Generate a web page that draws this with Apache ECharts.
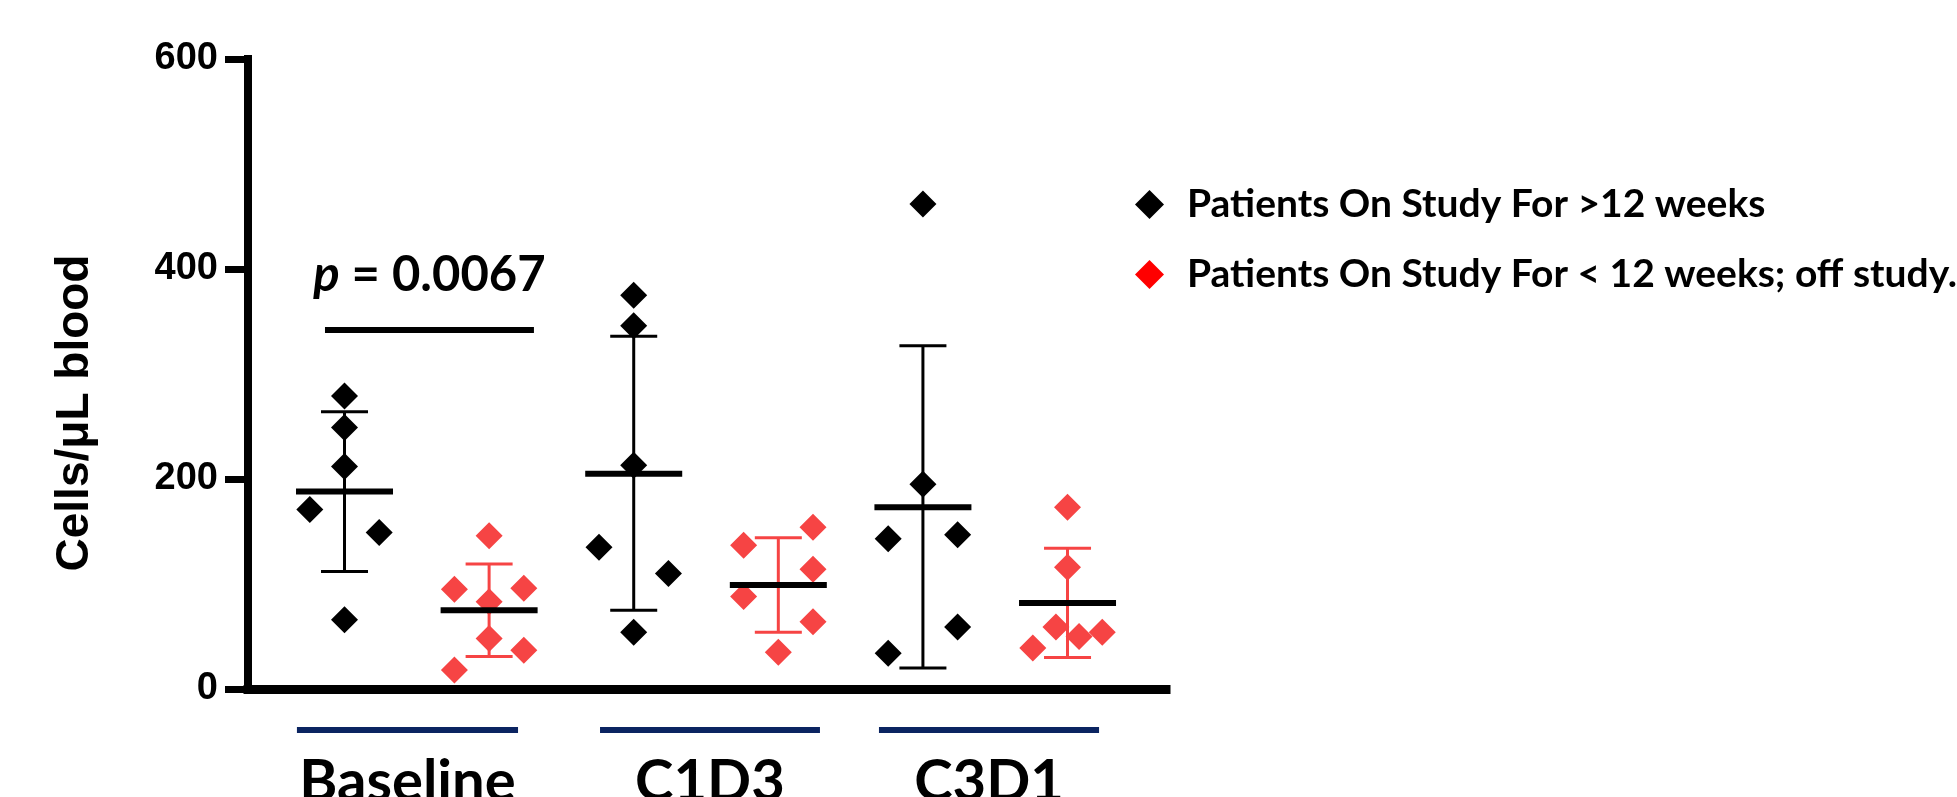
<!DOCTYPE html>
<html>
<head>
<meta charset="utf-8">
<script src="https://cdn.jsdelivr.net/npm/echarts@6.0.0/dist/echarts.min.js"></script>
<style>
  html, body { margin: 0; padding: 0; background: #fff; }
  #chart { width: 1957px; height: 797px; }
</style>
</head>
<body>
<div id="chart"></div>
<script>
// 分组名称
const groups = ['Baseline', 'C1D3', 'C3D1'];
const seriesNames = ['Patients On Study For >12 weeks', 'Patients On Study For < 12 weeks; off study.'];

// >12 weeks 组的数值 (每个时间点一行)
const longVals = [
	[279, 249, 212, 171, 149, 66],
	[375, 346, 213, 135, 110, 54],
	[462, 195, 143, 147, 59, 34],
];
// 散点左右错开的偏移 (x 轴单位)
const longShift = [
	[0, 0, 0, -0.24, 0.24, 0],
	[0, 0, 0, -0.24, 0.24, 0],
	[0, 0, -0.24, 0.24, 0.24, -0.24],
];
// <12 weeks 组的数值
const shortVals = [
	[146, 95, 96, 83, 48, 37, 18],
	[137, 154, 114, 88, 64, 35],
	[173, 116, 59, 50, 54, 39],
];
const shortShift = [
	[0, -0.24, 0.24, 0, 0, 0.24, -0.24],
	[-0.24, 0.24, 0.24, -0.24, 0.24, 0],
	[0, 0, -0.08, 0.08, 0.24, -0.24],
];

// 均值和误差线 (mean ± SD)
const longMean = [188, 205, 173];
const longLow = [112, 75, 20];
const longHigh = [264, 336, 327];
const shortMean = [75, 99, 82];
const shortLow = [31, 54, 30];
const shortHigh = [119, 144, 134];

// 底部分组横线的范围
const groupSpan = [[0.671, 2.2], [2.767, 4.288], [4.696, 6.218]];

// 显著性标注
const sigSpan = [0.865, 2.31];
const sigY = 342;
const sigTextY = 394;
const sigText = '0.0067';

const RED = '#f64444';
const NAVY = '#0b2461';

// 组装数据
let longData = [], shortData = [], barData = [], meanData = [];
groups.forEach((g, i) => {
	const xl = 1 + i * 2, xs = 2 + i * 2;
	longVals[i].forEach((v, j) => longData.push([xl + longShift[i][j], v]));
	shortVals[i].forEach((v, j) => shortData.push([xs + shortShift[i][j], v]));
	barData.push([xl, longLow[i], longHigh[i], 0]);
	barData.push([xs, shortLow[i], shortHigh[i], 1]);
	meanData.push([xl, longMean[i]]);
	meanData.push([xs, shortMean[i]]);
});

let myChart = echarts.init(document.getElementById('chart'));

myChart.setOption({
	animation: false,
	grid: {
		left: 248,
		top: 59,
		width: 918,
		height: 630,
	},
	legend: {
		orient: 'vertical',
		left: 1130,
		top: 180,
		itemWidth: 29,
		itemHeight: 29,
		itemGap: 31,
		icon: 'diamond',
		selectedMode: false,
		textStyle: {
			fontFamily: 'Lato',
			fontWeight: 'bold',
			fontSize: 39,
			lineHeight: 38,
			color: '#000',
			padding: [0, 0, 0, 18],
		},
		data: [
			{ name: seriesNames[0], itemStyle: { color: '#000', opacity: 1 } },
			{ name: seriesNames[1], itemStyle: { color: '#ff0000', opacity: 1 } },
		],
	},
	xAxis: {
		type: 'value',
		min: 0.3326,
		max: 6.681,
		axisLine: {
			show: true,
			onZero: false,
			lineStyle: { color: '#000', width: 9, cap: 'square' },
		},
		axisTick: { show: false },
		axisLabel: { show: false },
		splitLine: { show: false },
	},
	yAxis: {
		type: 'value',
		min: 0,
		max: 600,
		interval: 200,
		axisLine: {
			show: true,
			lineStyle: { color: '#000', width: 8, cap: 'square' },
		},
		axisTick: {
			show: true,
			length: 23,
			lineStyle: { color: '#000', width: 7 },
		},
		axisLabel: {
			margin: 30,
			color: '#000',
			fontFamily: 'Liberation Sans',
			fontWeight: 'bold',
			fontSize: 38,
		},
		splitLine: { show: false },
	},
	graphic: [
		{
			type: 'text',
			x: 75,
			y: 413,
			rotation: Math.PI / 2,
			style: {
				text: 'Cells/μL blood',
				fontFamily: 'Liberation Sans',
				fontWeight: 'bold',
				fontSize: 46,
				fill: '#000',
				align: 'center',
				verticalAlign: 'middle',
			},
		},
	],
	series: [
		{
			// 误差线
			type: 'custom',
			data: barData,
			z: 1,
			silent: true,
			renderItem: (params, api) => {
				const x = api.value(0);
				const lo = api.coord([x, api.value(1)]);
				const hi = api.coord([x, api.value(2)]);
				const half = 23.5;
				const color = api.value(3) === 0 ? '#000' : RED;
				const st = { stroke: color, lineWidth: 3 };
				return {
					type: 'group',
					children: [
						{ type: 'line', shape: { x1: lo[0], y1: lo[1], x2: hi[0], y2: hi[1] }, style: st },
						{ type: 'line', shape: { x1: lo[0] - half, y1: lo[1], x2: lo[0] + half, y2: lo[1] }, style: st },
						{ type: 'line', shape: { x1: hi[0] - half, y1: hi[1], x2: hi[0] + half, y2: hi[1] }, style: st },
					],
				};
			},
		},
		{
			name: seriesNames[0],
			type: 'scatter',
			symbol: 'diamond',
			symbolSize: 27,
			z: 2,
			itemStyle: { color: '#000', opacity: 1 },
			data: longData,
		},
		{
			name: seriesNames[1],
			type: 'scatter',
			symbol: 'diamond',
			symbolSize: 27,
			z: 2,
			itemStyle: { color: RED, opacity: 1 },
			data: shortData,
		},
		{
			// 均值横线
			type: 'custom',
			data: meanData,
			z: 3,
			silent: true,
			renderItem: (params, api) => {
				const p = api.coord([api.value(0), api.value(1)]);
				return {
					type: 'line',
					shape: { x1: p[0] - 48.5, y1: p[1], x2: p[0] + 48.5, y2: p[1] },
					style: { stroke: '#000', lineWidth: 6 },
				};
			},
		},
		{
			// 底部分组线和分组名
			type: 'custom',
			data: groupSpan.map((s, i) => [s[0], s[1], i]),
			z: 3,
			silent: true,
			clip: false,
			renderItem: (params, api) => {
				const a = api.coord([api.value(0), 0]);
				const b = api.coord([api.value(1), 0]);
				return {
					type: 'group',
					children: [
						{ type: 'line', shape: { x1: a[0], y1: a[1] + 41, x2: b[0], y2: b[1] + 41 }, style: { stroke: NAVY, lineWidth: 6 } },
						{
							type: 'text',
							x: (a[0] + b[0]) / 2,
							y: a[1] + 93,
							style: {
								text: groups[api.value(2)],
								fontFamily: 'Lato',
								fontWeight: 'bold',
								fontSize: 58,
								fill: '#000',
								align: 'center',
								verticalAlign: 'middle',
							},
						},
					],
				};
			},
		},
		{
			// 显著性标注
			type: 'custom',
			data: [[sigSpan[0], sigSpan[1], sigY, sigTextY]],
			z: 3,
			silent: true,
			clip: false,
			renderItem: (params, api) => {
				const a = api.coord([api.value(0), api.value(2)]);
				const b = api.coord([api.value(1), api.value(2)]);
				const t = api.coord([(api.value(0) + api.value(1)) / 2, api.value(3)]);
				const font = { fontFamily: 'Lato', fontWeight: 'bold', fontSize: 49, fill: '#000' };
				return {
					type: 'group',
					children: [
						{ type: 'line', shape: { x1: a[0], y1: a[1], x2: b[0], y2: b[1] }, style: { stroke: '#000', lineWidth: 6 } },
						{
							type: 'text',
							x: t[0],
							y: t[1],
							style: {
								text: '{i|p}{n| = ' + sigText + '}',
								align: 'center',
								verticalAlign: 'middle',
								rich: {
									i: Object.assign({ fontStyle: 'italic' }, font),
									n: font,
								},
							},
						},
					],
				};
			},
		},
	],
});
</script>
</body>
</html>
